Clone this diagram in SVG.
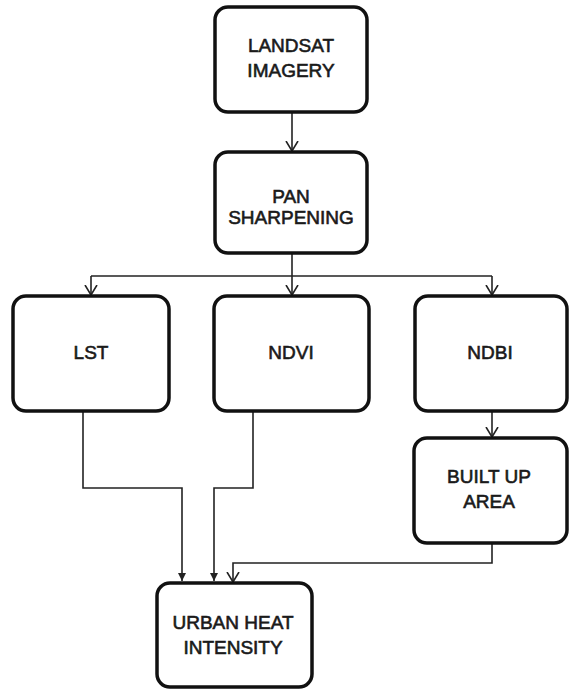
<svg xmlns="http://www.w3.org/2000/svg" width="569" height="689" viewBox="0 0 569 689">
<style>
.box{fill:#fff;stroke:#111;stroke-width:3.5}
.t{font-family:"Liberation Sans",Arial,sans-serif;font-size:19px;fill:#1a1a1a;text-anchor:middle;stroke:#1a1a1a;stroke-width:0.6}
.c{fill:none;stroke:#222;stroke-width:1.6}
</style>
<defs>
<marker id="v" viewBox="0 0 11 14" refX="10" refY="7" markerWidth="11" markerHeight="14" markerUnits="userSpaceOnUse" orient="auto">
<path d="M0,1 L10,7 L0,13" fill="none" stroke="#222" stroke-width="1.6"/>
</marker>
<marker id="f" viewBox="0 0 8 8" refX="8" refY="4" markerWidth="8" markerHeight="8" markerUnits="userSpaceOnUse" orient="auto">
<path d="M0,0 L8,4 L0,8 Z" fill="#222"/>
</marker>
</defs>
<g id="connectors">
<line class="c" x1="292" y1="112" x2="292" y2="151" marker-end="url(#v)"/>
<line class="c" x1="292" y1="253" x2="292" y2="276"/>
<line class="c" x1="91" y1="276" x2="492" y2="276"/>
<line class="c" x1="91" y1="276" x2="91" y2="295" marker-end="url(#v)"/>
<line class="c" x1="292" y1="276" x2="292" y2="295" marker-end="url(#v)"/>
<line class="c" x1="492" y1="276" x2="492" y2="295" marker-end="url(#v)"/>
<line class="c" x1="492" y1="411" x2="492" y2="437" marker-end="url(#v)"/>
<polyline class="c" points="83,411 83,488 182,488 182,581" marker-end="url(#f)"/>
<polyline class="c" points="253,411 253,488 214,488 214,581" marker-end="url(#f)"/>
<polyline class="c" points="492,543 492,563 233,563 233,582" marker-end="url(#v)"/>
</g>
<g id="landsat">
<rect class="box" x="215" y="7" width="152" height="105" rx="13"/>
<text class="t" x="291" y="52">LANDSAT</text>
<text class="t" x="291" y="77">IMAGERY</text>
</g>
<g id="pan">
<rect class="box" x="215" y="152" width="152" height="101" rx="13"/>
<text class="t" x="291" y="203">PAN</text>
<text class="t" x="291" y="224">SHARPENING</text>
</g>
<g id="lst">
<rect class="box" x="13" y="296" width="156" height="115" rx="13"/>
<text class="t" x="91" y="359">LST</text>
</g>
<g id="ndvi">
<rect class="box" x="214" y="296" width="155" height="115" rx="13"/>
<text class="t" x="291" y="359">NDVI</text>
</g>
<g id="ndbi">
<rect class="box" x="415" y="296" width="152" height="115" rx="13"/>
<text class="t" x="490" y="359">NDBI</text>
</g>
<g id="builtup">
<rect class="box" x="414" y="438" width="153" height="105" rx="13"/>
<text class="t" x="489" y="483">BUILT UP</text>
<text class="t" x="489" y="508">AREA</text>
</g>
<g id="urban">
<rect class="box" x="157" y="583" width="155" height="104" rx="13"/>
<text class="t" x="233" y="629">URBAN HEAT</text>
<text class="t" x="233" y="654">INTENSITY</text>
</g>
</svg>
